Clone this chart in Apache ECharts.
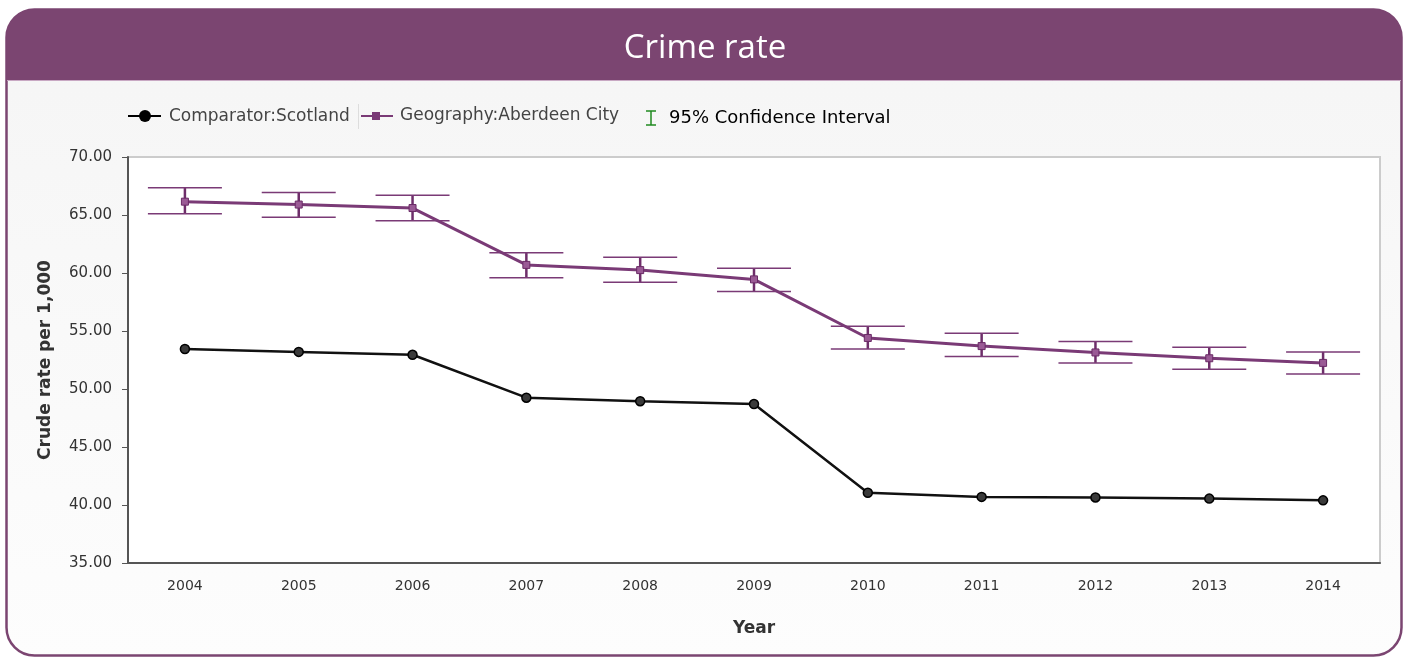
<!DOCTYPE html>
<html>
<head>
<meta charset="utf-8">
<script src="https://cdn.jsdelivr.net/npm/echarts@6/dist/echarts.min.js"></script>
<style>
html,body{margin:0;padding:0;background:#fff;}
#chart{width:1410px;height:657px;}
</style>
</head>
<body>
<div id="chart"></div>
<script>
var years = ['2004','2005','2006','2007','2008','2009','2010','2011','2012','2013','2014'];
var scotland = [53.45, 53.2, 52.95, 49.25, 48.95, 48.7, 41.05, 40.7, 40.65, 40.55, 40.4];
var aberdeen = [66.15, 65.9, 65.6, 60.7, 60.25, 59.45, 54.4, 53.7, 53.15, 52.65, 52.25];
var ciLower = [65.1, 64.8, 64.5, 59.6, 59.2, 58.4, 53.45, 52.8, 52.25, 51.7, 51.3];
var ciUpper = [67.35, 66.95, 66.7, 61.75, 61.35, 60.4, 55.4, 54.8, 54.1, 53.6, 53.2];
var legendNames = ['Comparator:Scotland', 'Geography:Aberdeen City', '95% Confidence Interval'];
var titleText = 'Crime rate';
var yAxisName = 'Crude rate per 1,000';
var xAxisName = 'Year';

var purple = '#7B4571';
var linePurple = '#7A3A76';
var ciData = years.map(function (y, i) { return [i, ciLower[i], ciUpper[i]]; });

var chart = echarts.init(document.getElementById('chart'));
var labelFont = 'DejaVu Sans';

chart.setOption({
  animation: false,
  backgroundColor: '#ffffff',
  title: {
    text: titleText,
    left: 'center',
    top: 27,
    textStyle: { color: '#ffffff', fontFamily: 'Open Sans', fontSize: 33, fontWeight: 'normal' }
  },
  graphic: [
    { type: 'rect', z: -10, silent: true,
      shape: { x: 6.5, y: 9.5, width: 1395, height: 646, r: 28 },
      style: { fill: new echarts.graphic.LinearGradient(0, 0, 0, 1, [{offset: 0, color: '#f5f5f5'}, {offset: 1, color: '#fdfdfd'}]), stroke: purple, lineWidth: 2.5 } },
    { type: 'rect', z: -9, silent: true,
      shape: { x: 6.5, y: 9.5, width: 1395, height: 71, r: [28, 28, 0, 0] },
      style: { fill: purple } },
    { type: 'line', z: -8, silent: true,
      shape: { x1: 7, y1: 80.5, x2: 1401, y2: 80.5 },
      style: { stroke: '#c8a8c3', lineWidth: 1 } },
    // legend: Scotland
    { type: 'line', shape: { x1: 128, y1: 116, x2: 161, y2: 116 }, style: { stroke: '#000', lineWidth: 2 } },
    { type: 'circle', shape: { cx: 145, cy: 116, r: 6 }, style: { fill: '#000' } },
    { type: 'text', left: 169, top: 108, style: { text: legendNames[0], fill: '#444', font: '17px "DejaVu Sans"' } },
    { type: 'line', shape: { x1: 358.5, y1: 104, x2: 358.5, y2: 129 }, style: { stroke: '#dddddd', lineWidth: 1 } },
    // legend: Aberdeen
    { type: 'line', shape: { x1: 361, y1: 116, x2: 393, y2: 116 }, style: { stroke: linePurple, lineWidth: 2 } },
    { type: 'rect', shape: { x: 372, y: 112, width: 8, height: 8 }, style: { fill: '#7A3A76' } },
    { type: 'text', left: 400, top: 107, style: { text: legendNames[1], fill: '#444', font: '17px "DejaVu Sans"' } },
    // legend: CI
    { type: 'line', shape: { x1: 651, y1: 111, x2: 651, y2: 125 }, style: { stroke: '#1f8a1f', lineWidth: 1.5 } },
    { type: 'line', shape: { x1: 646, y1: 111, x2: 656, y2: 111 }, style: { stroke: '#1f8a1f', lineWidth: 1.5 } },
    { type: 'line', shape: { x1: 646, y1: 125, x2: 656, y2: 125 }, style: { stroke: '#1f8a1f', lineWidth: 1.5 } },
    { type: 'text', left: 669, top: 109, style: { text: legendNames[2], fill: '#000', font: '18px "DejaVu Sans"' } }
  ],
  grid: {
    left: 128, right: 30, top: 157, bottom: 94,
    show: true, backgroundColor: '#ffffff', borderColor: '#cccccc', borderWidth: 2
  },
  xAxis: {
    type: 'category',
    data: years,
    boundaryGap: true,
    name: xAxisName,
    nameLocation: 'middle',
    nameGap: 57,
    nameTextStyle: { fontFamily: labelFont, fontSize: 17, fontWeight: 'bold', color: '#333' },
    axisLine: { lineStyle: { color: '#555', width: 2 } },
    axisTick: { alignWithLabel: true, length: 6, lineStyle: { color: '#555', width: 1 } },
    axisLabel: { margin: 16, fontFamily: labelFont, fontSize: 14, color: '#333' },
    splitLine: { show: false }
  },
  yAxis: {
    type: 'value',
    min: 35, max: 70, interval: 5,
    name: yAxisName,
    nameLocation: 'middle',
    nameGap: 74,
    nameRotate: 90,
    nameTextStyle: { fontFamily: labelFont, fontSize: 17, fontWeight: 'bold', color: '#333' },
    axisLine: { show: true, lineStyle: { color: '#555', width: 2 } },
    axisTick: { show: true, length: 6, lineStyle: { color: '#555', width: 1 } },
    axisLabel: { margin: 16, fontFamily: labelFont, fontSize: 15, color: '#333',
      formatter: function (v) { return v.toFixed(2); } },
    splitLine: { show: false }
  },
  series: [
    {
      type: 'custom',
      name: legendNames[2],
      data: ciData,
      z: 1,
      renderItem: function (params, api) {
        var x = api.value(0);
        var lo = api.coord([x, api.value(1)]);
        var hi = api.coord([x, api.value(2)]);
        var hw = 37;
        var st = { stroke: linePurple, lineWidth: 1.5 };
        return {
          type: 'group',
          children: [
            { type: 'line', shape: { x1: hi[0], y1: hi[1], x2: lo[0], y2: lo[1] }, style: { stroke: '#6e2e6a', lineWidth: 2.5 } },
            { type: 'line', shape: { x1: hi[0] - hw, y1: hi[1], x2: hi[0] + hw, y2: hi[1] }, style: st },
            { type: 'line', shape: { x1: lo[0] - hw, y1: lo[1], x2: lo[0] + hw, y2: lo[1] }, style: st }
          ]
        };
      }
    },
    {
      type: 'line',
      name: legendNames[0],
      data: scotland,
      z: 3,
      symbol: 'circle',
      symbolSize: 9,
      lineStyle: { color: '#111', width: 2.5 },
      itemStyle: { color: '#3a3a3a', borderColor: '#000', borderWidth: 1.5 }
    },
    {
      type: 'line',
      name: legendNames[1],
      data: aberdeen,
      z: 3,
      symbol: 'rect',
      symbolSize: 7,
      lineStyle: { color: linePurple, width: 3 },
      itemStyle: { color: '#9a5a95', borderColor: '#6a2a66', borderWidth: 1 }
    }
  ]
});
</script>
</body>
</html>
